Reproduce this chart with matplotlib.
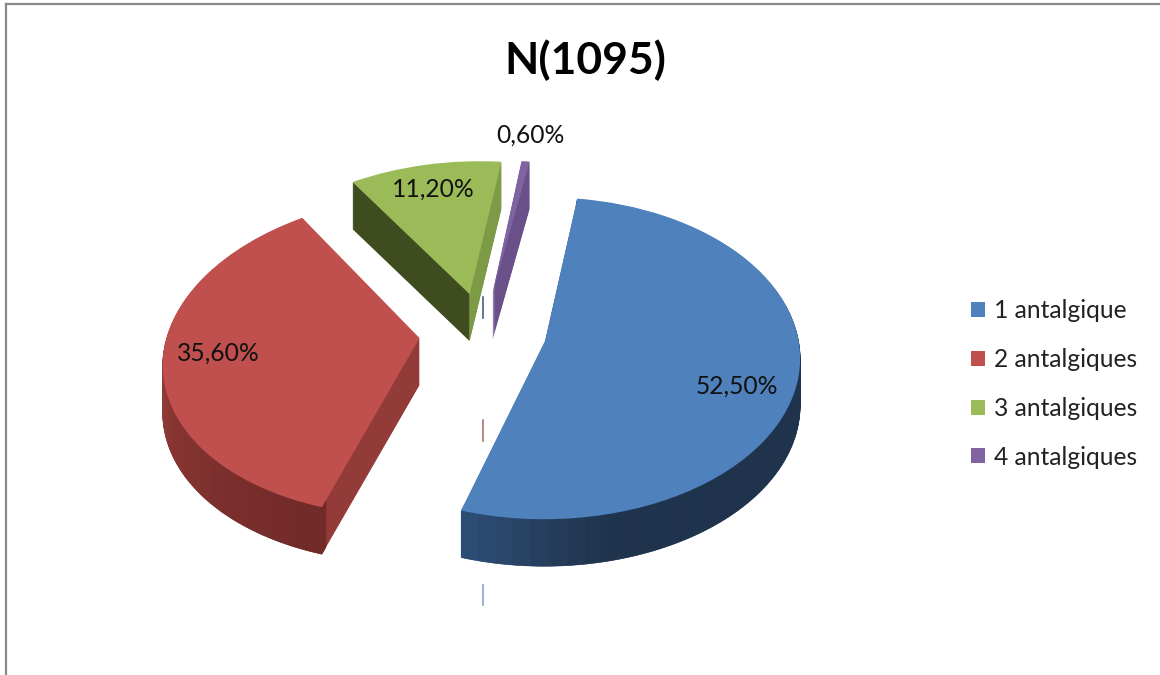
import numpy as np
import matplotlib
matplotlib.use("Agg")
import matplotlib.pyplot as plt
from matplotlib.colors import LinearSegmentedColormap
from matplotlib.lines import Line2D
from matplotlib.transforms import Affine2D, Transform

# donnees
categories = ["1 antalgique", "2 antalgiques", "3 antalgiques", "4 antalgiques"]
valeurs = [52.5, 35.6, 11.2, 0.6]
titre = "N(1095)"

couleurs = ["#4f81bd", "#c0504d", "#9bbb59", "#8064a2"]
# faces de coupe (gauche, droite) et degrade du bord
faces = [("#2a4668", "#2a4668"), ("#933b38", "#933b38"), ("#3f4c20", "#7d9a46"), ("#6a5088", "#6a5088")]
bords = [[(0, "#1f334c"), (0.85, "#1f334c"), (1, "#2f4f78")],
         [(0, "#6f2a28"), (0.35, "#853431"), (0.6, "#a0433f"), (1, "#a0433f")], None, None]

plt.rcParams["font.family"] = ["Lato", "DejaVu Sans"]

fig = plt.figure(figsize=(11.6, 6.75), dpi=100)
ax = fig.add_axes([0, 0, 1, 1])

# perspective : le bas du disque est plus grand que le haut
def vers_ecran(y):
    return 159 * np.asarray(y, dtype=float) - 17.5 * np.asarray(y, dtype=float) ** 2

def depuis_ecran(f):
    return (159 - np.sqrt(np.maximum(159**2 - 70 * np.asarray(f, dtype=float), 0))) / 35

ax.set_yscale("function", functions=(vers_ecran, depuis_ecran))

# meme idee en x : resserre vers le haut, elargi vers le bas
class Fuite(Transform):
    input_dims = 2
    output_dims = 2

    def transform_non_affine(self, values):
        x, y = values[:, 0], values[:, 1]
        return np.column_stack([x * (1 - 0.115 * y) + 0.032 * y, y])

fuite = Fuite()

total = sum(valeurs)
depart = 82
ecart = 0.2525
rayon_px = 252
profondeur = 47
hauts = []
angle = depart
for i, v in enumerate(valeurs):
    part = v / total
    milieu = np.deg2rad(angle - part * 180)
    centre = (ecart * np.cos(milieu), ecart * np.sin(milieu))

    # epaisseur : on empile la part, du bas vers le haut
    if bords[i] is not None:
        cmap = LinearSegmentedColormap.from_list("bord", bords[i])
        n = max(int(v), 1)
        t = (np.arange(n) + 0.5) / n
        tranches = [part / n] * n
        teintes = [cmap(x) for x in t]
    for k in range(profondeur, 0, -1):
        w, _ = ax.pie([part / 2, part / 2], colors=faces[i], startangle=angle, counterclock=False,
                      center=centre, normalize=False, wedgeprops={"linewidth": 0})
        for p in w:
            p.set_transform(fuite + ax.transData + Affine2D().translate(0, -k))
        if bords[i] is not None:
            w, _ = ax.pie(tranches, colors=teintes, startangle=angle, counterclock=False,
                          center=centre, normalize=False,
                          wedgeprops={"width": 0.04, "linewidth": 0.4})
            for p in w:
                p.set_edgecolor(p.get_facecolor())
                p.set_transform(fuite + ax.transData + Affine2D().translate(0, -k))

    # dessus
    w, _ = ax.pie([part], colors=[couleurs[i]], startangle=angle, counterclock=False,
                  center=centre, normalize=False, wedgeprops={"linewidth": 0})
    w[0].set_transform(fuite + ax.transData)
    hauts.append(w[0])
    angle -= part * 360

ax.set_aspect("auto")
ax.set_xlim(-483 / rayon_px, (1160 - 483) / rayon_px)
ax.set_ylim(depuis_ecran(332 - 675), depuis_ecran(332))
ax.set_axis_off()

# calque en pixels pour les textes
px = fig.add_axes([0, 0, 1, 1], facecolor="none")
px.set_xlim(0, 1160)
px.set_ylim(675, 0)
px.set_axis_off()

px.text(585, 60, titre, fontsize=32, fontweight="bold", ha="center", va="center", color="black")

positions = [(737, 386), (218, 353), (433, 189), (530, 135)]
for v, (x, y) in zip(valeurs, positions):
    px.text(x, y, f"{v:.2f}%".replace(".", ","), fontsize=17.7, ha="center", va="center", color="#111111")

# petits traits de rappel
for x, y0, y1, c in [(483, 297, 318, "#4a6080"), (483, 420, 441, "#b07070"), (483, 585, 605, "#7fa5d8")]:
    px.plot([x, x], [y0, y1], color=c, lw=1.2)

px.legend(hauts, categories, loc="center left", bbox_to_anchor=(971 / 1160, 1 - 384 / 675), frameon=False,
          fontsize=17.7, handlelength=0.57, handleheight=0.57, handletextpad=0.37,
          labelspacing=1.045, labelcolor="#222222", borderpad=0, borderaxespad=0)

# cadre
fig.add_artist(Line2D([6 / 1160, 6 / 1160], [0, 1 - 4 / 675], color="#8a8a8a", lw=1.6))
fig.add_artist(Line2D([6 / 1160, 1], [1 - 4 / 675, 1 - 4 / 675], color="#8a8a8a", lw=1.6))

plt.savefig("out.png", dpi=100)
